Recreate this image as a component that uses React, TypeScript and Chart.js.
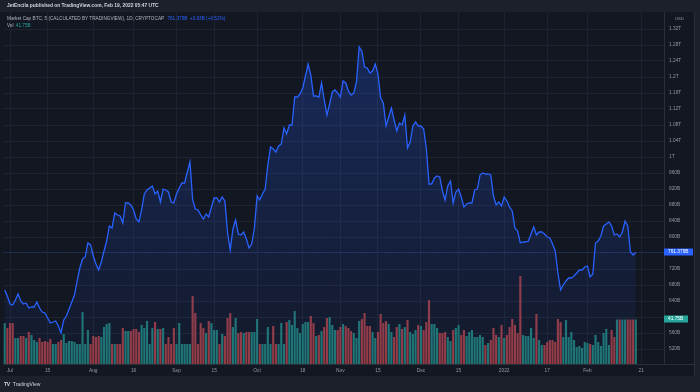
import React, { useEffect, useRef } from 'react';
import { Chart, registerables } from 'chart.js';

Chart.register(...registerables);

// ---------- data ----------
const FIRST_DAY_UTC = Date.UTC(2021, 5, 29);
const AXIS_DAYS = 246; // axis runs past the last bar, to 2022-03-01
const DATES: string[] = Array.from({ length: AXIS_DAYS }, (_, i) =>
  new Date(FIRST_DAY_UTC + i * 86400000).toISOString().slice(0, 10)
);

// BTC market cap, billions USD (daily close)
const MARKET_CAP_B = [
  667.5, 652.5, 632.5, 630, 642.5, 657.5, 640, 632.5, 635, 622.5,
  625, 625, 637.5, 622.5, 612.5, 610, 597.5, 585, 587.5, 590,
  577.5, 560, 592.5, 602.5, 620, 637.5, 655, 690, 722.5, 745,
  750, 785, 780, 752.5, 732.5, 717.5, 737.5, 765, 790, 827.5,
  822.5, 860, 855, 852.5, 835, 885, 885, 880, 867.5, 845,
  837.5, 867.5, 907.5, 917.5, 922.5, 927.5, 907.5, 915, 887.5, 920,
  917.5, 912.5, 887.5, 885, 907.5, 922.5, 935, 935, 962.5, 987.5,
  892.5, 870, 867.5, 855, 845, 857.5, 850, 875, 897.5, 897.5,
  887.5, 900, 890, 810, 767.5, 820, 842.5, 807.5, 805, 812.5,
  795, 772.5, 782.5, 822.5, 902.5, 892.5, 907.5, 920, 980, 1025,
  1020, 1012.5, 1027.5, 1032.5, 1072.5, 1057.5, 1080, 1080, 1150, 1150,
  1157.5, 1172.5, 1202.5, 1232.5, 1205, 1152.5, 1152.5, 1150, 1185, 1142.5,
  1105, 1132.5, 1162.5, 1167.5, 1160, 1150, 1190, 1185, 1165, 1155,
  1160, 1187.5, 1275, 1265, 1225, 1222.5, 1210, 1215, 1232.5, 1207.5,
  1147.5, 1135, 1077.5, 1100, 1122.5, 1092.5, 1065, 1085, 1080, 1105,
  1022.5, 1037.5, 1077.5, 1087.5, 1077.5, 1077.5, 1070, 1022.5, 932.5, 932.5,
  947.5, 952.5, 950, 915, 892.5, 927.5, 940, 885, 912.5, 920,
  900, 875, 882.5, 885, 885, 917.5, 920, 955, 960, 957.5,
  957.5, 955, 902.5, 880, 887.5, 877.5, 900, 890, 875, 865,
  822.5, 815, 785, 787.5, 787.5, 790, 807.5, 825, 805, 812.5,
  812.5, 807.5, 800, 797.5, 782.5, 765, 710, 667.5, 680, 690,
  697.5, 697.5, 702.5, 710, 717.5, 717.5, 725, 727.5, 700, 707.5,
  785, 790, 802.5, 827.5, 832.5, 837.5, 827.5, 805, 807.5, 800,
  812.5, 840, 827.5, 762.5, 755, 761.379,
];

// Volume, billions USD
const VOLUME_B = [
  38.5, 33.8, 38.5, 38.5, 24.4, 24.4, 26.3, 26.3, 24.4, 30.0,
  27.2, 22.5, 20.6, 24.4, 20.6, 21.6, 20.6, 23.5, 18.8, 18.8,
  20.6, 22.5, 28.1, 19.7, 21.6, 21.6, 20.6, 18.8, 18.8, 48.8,
  18.8, 31.9, 18.8, 26.3, 25.3, 26.3, 25.3, 34.7, 37.5, 38.5,
  18.8, 18.8, 18.8, 18.8, 33.8, 31.0, 31.0, 31.0, 32.8, 32.8,
  30.0, 36.6, 33.8, 40.3, 18.8, 33.8, 39.4, 32.8, 32.8, 33.8,
  18.8, 25.3, 18.8, 33.8, 18.8, 38.5, 18.8, 18.8, 18.8, 18.8,
  63.8, 47.8, 18.8, 38.5, 33.8, 29.1, 40.3, 38.5, 31.9, 31.9,
  18.8, 28.1, 26.3, 43.2, 47.8, 34.7, 43.2, 29.1, 30.0, 29.1,
  30.0, 30.0, 30.0, 30.0, 42.2, 18.8, 18.8, 18.8, 34.7, 18.8,
  35.6, 18.8, 18.8, 38.5, 18.8, 39.4, 41.3, 36.6, 49.7, 33.8,
  29.1, 37.5, 39.4, 39.4, 45.0, 38.5, 26.3, 27.2, 31.0, 34.7,
  43.2, 44.1, 36.6, 31.9, 31.9, 34.7, 37.5, 35.6, 33.8, 31.0,
  29.1, 24.4, 40.3, 42.2, 47.8, 35.6, 35.6, 30.0, 24.4, 30.0,
  46.9, 38.5, 40.3, 37.5, 30.0, 25.3, 34.7, 37.5, 32.8, 34.7,
  41.3, 30.0, 28.1, 31.9, 36.6, 35.6, 31.9, 39.4, 60.0, 37.5,
  37.5, 33.8, 29.1, 29.1, 30.0, 25.3, 21.6, 31.9, 33.8, 36.6,
  27.2, 31.9, 26.3, 30.0, 31.9, 25.3, 25.3, 27.2, 25.3, 17.8,
  19.7, 22.5, 33.8, 27.2, 25.3, 36.6, 24.4, 27.2, 34.7, 42.2,
  36.6, 29.1, 82.6, 27.2, 26.3, 26.3, 33.8, 24.4, 46.9, 22.5,
  17.8, 17.8, 20.6, 22.5, 22.5, 20.6, 42.2, 39.4, 25.3, 41.3,
  25.3, 30.0, 22.5, 15.9, 16.9, 15.0, 20.6, 19.7, 18.8, 17.8,
  27.2, 20.6, 16.9, 29.1, 32.8, 17.8, 31.9, 25.3, 41.75, 41.75,
  41.75, 41.75, 41.75, 41.75, 41.75, 41.75,
];

const PRICE_TICKS_B = [520, 560, 600, 640, 680, 720, 760, 800, 840, 880, 920, 960, 1000, 1040, 1080, 1120, 1160, 1200, 1240, 1280, 1320];
const HIDDEN_TICK_LABELS_B = [600, 760];
const X_TICK_DATES = ['2021-07-01', '2021-07-15', '2021-08-01', '2021-08-16', '2021-09-01', '2021-09-15', '2021-10-01', '2021-10-18', '2021-11-01', '2021-11-15', '2021-12-01', '2021-12-15', '2022-01-01', '2022-01-17', '2022-02-01', '2022-02-21'];
const X_TICK_TEXT = ['Jul', '15', 'Aug', '16', 'Sep', '15', 'Oct', '18', 'Nov', '15', 'Dec', '15', '2022', '17', 'Feb', '21'];

const LAST_CAP_B = 761.379;
const CHANGE_B = 3.93;
const CHANGE_PCT = 0.52;
const LAST_VOL_B = 41.75;

const PRICE_MIN_B = 482.5;
const PRICE_MAX_B = 1362.5;
const VOL_MAX_B = 330;

// ---------- styles ----------
const FONT = '"Liberation Sans", Arial, sans-serif';
const OUTER_BG = '#1c202b';
const PANE_BG = '#131722';
const GRID = '#1f2330';
const AXIS_LINE = '#2a2e39';
const TICK = '#9598a1';
const BLUE = '#2962ff';
const TEAL = '#26a69a';
const VOL_UP = 'rgb(31,118,111)';
const VOL_DOWN = 'rgb(152,58,62)';

const fmtCap = (v: number) => (v >= 1000 ? `${+(v / 1000).toFixed(2)}T` : `${v}B`);

export default function App() {
  const ref = useRef<HTMLCanvasElement>(null);

  useEffect(() => {
    document.body.style.margin = '0';
    const canvas = ref.current;
    if (!canvas) return;

    const pad = (arr: number[]) => DATES.map((_, i) => (i < arr.length ? arr[i] : null));
    const volColors = VOLUME_B.map((_, i) =>
      i === 0 || MARKET_CAP_B[i] >= MARKET_CAP_B[i - 1] ? VOL_UP : VOL_DOWN
    );

    const overlay = {
      id: 'tvOverlay',
      afterDraw(chart: any) {
        const { ctx, chartArea: a, scales } = chart;
        ctx.save();
        // last price dotted line
        const py = scales.y.getPixelForValue(LAST_CAP_B);
        ctx.strokeStyle = 'rgba(41,98,255,0.45)';
        ctx.lineWidth = 1;
        ctx.setLineDash([1, 2]);
        ctx.beginPath();
        ctx.moveTo(a.left, Math.round(py) + 0.5);
        ctx.lineTo(a.right, Math.round(py) + 0.5);
        ctx.stroke();
        ctx.setLineDash([]);
        // pane frame pieces
        ctx.strokeStyle = AXIS_LINE;
        ctx.beginPath();
        ctx.moveTo(a.right, Math.round(a.bottom) + 0.5);
        ctx.lineTo(695, Math.round(a.bottom) + 0.5);
        ctx.moveTo(694.5, 12);
        ctx.lineTo(694.5, 376);
        ctx.stroke();
        // axis labels
        const box = (y: number, bg: string, text: string, w: number) => {
          ctx.fillStyle = bg;
          ctx.fillRect(a.right, Math.round(y) - 3.5, w, 7);
          ctx.fillStyle = '#ffffff';
          ctx.font = `4.8px ${FONT}`;
          ctx.textAlign = 'left';
          ctx.textBaseline = 'middle';
          ctx.fillText(text, a.right + 4, Math.round(y));
        };
        box(py, BLUE, `${LAST_CAP_B.toFixed(3)}B`, 29);
        box(scales.vol.getPixelForValue(LAST_VOL_B), TEAL, `${LAST_VOL_B}B`, 24);
        ctx.restore();
      },
    };

    const chart = new Chart(canvas, {
      type: 'bar',
      data: {
        labels: DATES,
        datasets: [
          {
            type: 'line',
            label: 'Market Cap BTC',
            data: pad(MARKET_CAP_B),
            yAxisID: 'y',
            borderColor: BLUE,
            borderWidth: 1.3,
            pointRadius: 0,
            tension: 0,
            fill: 'start',
            backgroundColor: (c: any) => {
              const area = c.chart.chartArea;
              if (!area) return 'rgba(41,98,255,0.1)';
              const g = c.chart.ctx.createLinearGradient(0, area.top, 0, area.bottom);
              g.addColorStop(0, 'rgba(41,98,255,0.28)');
              g.addColorStop(1, 'rgba(41,98,255,0.04)');
              return g;
            },
            order: 0,
          } as any,
          {
            type: 'bar',
            label: 'Vol',
            data: pad(VOLUME_B),
            yAxisID: 'vol',
            backgroundColor: volColors,
            categoryPercentage: 1,
            barPercentage: 0.8,
            order: 1,
          } as any,
        ],
      },
      options: {
        responsive: false,
        animation: false,
        devicePixelRatio: 1,
        events: [],
        layout: { padding: { left: 3.3, top: 12, right: 5, bottom: 16 } },
        plugins: { legend: { display: false }, tooltip: { enabled: false } },
        scales: {
          x: {
            type: 'category',
            offset: true,
            grid: { color: GRID, drawTicks: false, offset: false },
            border: { color: AXIS_LINE },
            ticks: {
              color: TICK,
              font: { size: 4.8, family: FONT },
              padding: 3.5,
              autoSkip: false,
              maxRotation: 0,
              callback: (value: any) => {
                const k = X_TICK_DATES.indexOf(DATES[value]);
                return k >= 0 ? X_TICK_TEXT[k] : '';
              },
            },
            afterBuildTicks: (scale: any) => {
              scale.ticks = scale.ticks.filter((t: any) => X_TICK_DATES.includes(DATES[t.value]));
            },
            afterFit: (scale: any) => {
              scale.height = 12;
            },
          },
          y: {
            position: 'right',
            min: PRICE_MIN_B,
            max: PRICE_MAX_B,
            grid: { color: GRID, drawTicks: false },
            border: { color: AXIS_LINE },
            ticks: {
              color: TICK,
              font: { size: 4.8, family: FONT },
              padding: 5,
              callback: (v: any) => (HIDDEN_TICK_LABELS_B.includes(v) ? '' : fmtCap(v)),
            },
            afterBuildTicks: (scale: any) => {
              scale.ticks = PRICE_TICKS_B.map((v) => ({ value: v }));
            },
            afterFit: (scale: any) => {
              scale.width = 31;
            },
          },
          vol: {
            position: 'right',
            display: false,
            min: 0,
            max: VOL_MAX_B,
            grid: { display: false },
          },
        },
      } as any,
      plugins: [overlay],
    });

    return () => chart.destroy();
  }, []);

  const txt = (extra: React.CSSProperties): React.CSSProperties => ({
    position: 'absolute',
    whiteSpace: 'nowrap',
    fontFamily: FONT,
    lineHeight: '6px',
    ...extra,
  });

  return (
    <div style={{ position: 'fixed', left: 0, top: 0, width: 700, height: 392, background: OUTER_BG, overflow: 'hidden' }}>
      <div style={{ position: 'absolute', left: 0, top: 12, width: 695, height: 364, background: PANE_BG }} />
      <canvas ref={ref} width={700} height={392} style={{ position: 'absolute', left: 0, top: 0, width: 700, height: 392 }} />
      <div style={txt({ left: 7, top: 3, fontSize: 4.9, fontWeight: 700, color: '#d1d4dc' })}>
        JetEncila published on TradingView.com, Feb 19, 2022 05:47 UTC
      </div>
      <div style={txt({ left: 7, top: 16, fontSize: 4.7, color: '#b2b5be' })}>
        Market Cap BTC, 5 (CALCULATED BY TRADINGVIEW), 1D, CRYPTOCAP{' '}
        <span style={{ color: BLUE, marginLeft: 2 }}>{LAST_CAP_B.toFixed(3)}B</span>{' '}
        <span style={{ color: BLUE, marginLeft: 1 }}>
          +{CHANGE_B}B (+{CHANGE_PCT}%)
        </span>
      </div>
      <div style={txt({ left: 7, top: 22.7, fontSize: 4.7, color: '#b2b5be' })}>
        Vol <span style={{ color: TEAL, marginLeft: 1 }}>{LAST_VOL_B}B</span>
      </div>
      <div style={txt({ left: 675, top: 16, fontSize: 4.2, color: TICK })}>USD</div>
      <div style={txt({ left: 4, top: 381, fontSize: 5, color: '#d1d4dc' })}>
        <span style={{ fontWeight: 900, letterSpacing: -0.3, marginRight: 3 }}>TV</span>TradingView
      </div>
    </div>
  );
}
